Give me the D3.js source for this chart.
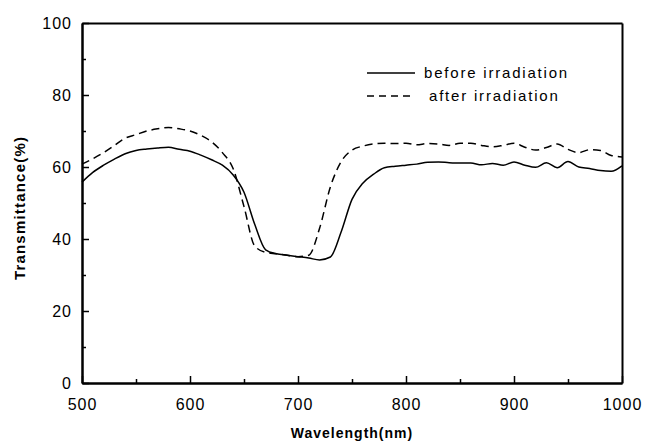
<!DOCTYPE html>
<html>
<head>
<meta charset="utf-8">
<script src="https://cdn.jsdelivr.net/npm/d3@7"></script>
<style>
body { margin: 0; background: #fff; }
svg { display: block; font-family: "Liberation Sans", Arial, sans-serif; }
</style>
</head>
<body>
<svg id="chart" width="645" height="444"></svg>
<script>
// transmittance spectra
var wavelengths = [500,510,520,530,540,550,560,570,580,590,600,610,620,630,640,650,660,670,680,690,
  700,710,720,730,740,750,760,770,780,790,800,810,820,830,840,850,860,870,880,890,
  900,910,920,930,940,950,960,970,980,990,1000];

var beforeIrr = [55.8,58.5,60.5,62.2,63.7,64.6,65.0,65.3,65.5,64.9,64.4,63.3,62.0,60.5,57.8,53.0,44.0,37.0,35.9,35.5,
  35.1,34.7,34.2,35.0,42.0,51.0,55.5,58.0,59.8,60.2,60.5,60.8,61.3,61.4,61.2,61.1,61.1,60.6,61.0,60.5,
  61.4,60.5,59.9,61.2,59.8,61.5,60.0,59.6,59.0,58.8,60.3];

var afterIrr = [60.8,62.3,64.0,66.0,68.0,69.0,70.0,70.6,71.0,70.6,70.0,68.8,67.0,64.0,59.5,49.0,38.0,36.3,35.9,35.5,
  35.1,35.5,43.0,54.5,61.5,64.7,65.8,66.4,66.6,66.5,66.6,66.2,66.5,66.4,66.0,66.6,66.6,66.0,65.6,66.0,
  66.6,65.5,64.7,65.4,66.4,64.9,64.0,64.8,64.6,63.2,62.8];

var xTicks = [500,600,700,800,900,1000];
var xMinor = [550,650,750,850,950];
var yTicks = [0,20,40,60,80,100];
var yMinor = [10,30,50,70,90];
var legendLabels = ["before irradiation", "after irradiation"];

var svg = d3.select("#chart");
var plotL = 82, plotR = 622, plotT = 23, plotB = 383;

var x = d3.scaleLinear().domain([500, 1000]).range([plotL, plotR]);
var y = d3.scaleLinear().domain([0, 100]).range([plotB, plotT]);

// frame + axes
function styleAxis(g) {
  g.select(".domain").attr("stroke", "#000").attr("stroke-width", 2);
  g.selectAll(".tick line").attr("stroke", "#000").attr("stroke-width", 1.5);
  g.selectAll(".tick text").attr("fill", "#000").style("font-size", "16px").style("letter-spacing", "1px");
}

svg.append("g").attr("transform", "translate(0," + plotT + ")")
  .call(d3.axisTop(x).tickValues([]).tickSizeOuter(0)).call(styleAxis);
svg.append("g").attr("transform", "translate(" + plotR + ",0)")
  .call(d3.axisRight(y).tickValues([]).tickSizeOuter(0)).call(styleAxis);

svg.append("g").attr("transform", "translate(0," + plotB + ")")
  .call(d3.axisBottom(x).tickValues(xMinor).tickSize(-4).tickSizeOuter(0).tickFormat(""))
  .call(styleAxis);
svg.append("g").attr("transform", "translate(" + plotL + ",0)")
  .call(d3.axisLeft(y).tickValues(yMinor).tickSize(-4).tickSizeOuter(0).tickFormat(""))
  .call(styleAxis);

svg.append("g").attr("transform", "translate(0," + plotB + ")")
  .call(d3.axisBottom(x).tickValues(xTicks).tickSize(-7).tickSizeOuter(0)
    .tickPadding(16).tickFormat(d3.format("d")))
  .call(styleAxis);
svg.append("g").attr("transform", "translate(" + plotL + ",0)")
  .call(d3.axisLeft(y).tickValues(yTicks).tickSize(-7).tickSizeOuter(0)
    .tickPadding(10).tickFormat(d3.format("d")))
  .call(styleAxis);

// axis titles
svg.append("text")
  .attr("x", (plotL + plotR) / 2)
  .attr("y", 438)
  .attr("text-anchor", "middle")
  .style("font-size", "14px").style("font-weight", "bold").style("letter-spacing", "1px")
  .text("Wavelength(nm)");

svg.append("text")
  .attr("transform", "translate(25,208) rotate(-90)")
  .attr("text-anchor", "middle")
  .style("font-size", "15px").style("font-weight", "bold").style("letter-spacing", "1.2px")
  .text("Transmittance(%)");

// curves
var line = d3.line()
  .x(function(d) { return x(d[0]); })
  .y(function(d) { return y(d[1]); })
  .curve(d3.curveMonotoneX);

svg.append("path")
  .datum(d3.zip(wavelengths, beforeIrr))
  .attr("fill", "none")
  .attr("stroke", "#000")
  .attr("stroke-width", 1.5)
  .attr("d", line);

svg.append("path")
  .datum(d3.zip(wavelengths, afterIrr))
  .attr("fill", "none")
  .attr("stroke", "#000")
  .attr("stroke-width", 1.5)
  .attr("stroke-dasharray", "8,5")
  .attr("d", line);

// legend
var legend = svg.append("g");
legendLabels.forEach(function(lbl, i) {
  var ly = 73 + i * 23;
  legend.append("line")
    .attr("x1", 367).attr("x2", 415)
    .attr("y1", ly).attr("y2", ly)
    .attr("stroke", "#000").attr("stroke-width", 1.4)
    .attr("stroke-dasharray", i === 0 ? null : "7,5");
  legend.append("text")
    .attr("x", i === 0 ? 424 : 429)
    .attr("y", ly + 5)
    .style("font-size", "15px").style("letter-spacing", "1.8px")
    .text(lbl);
});
</script>
</body>
</html>
